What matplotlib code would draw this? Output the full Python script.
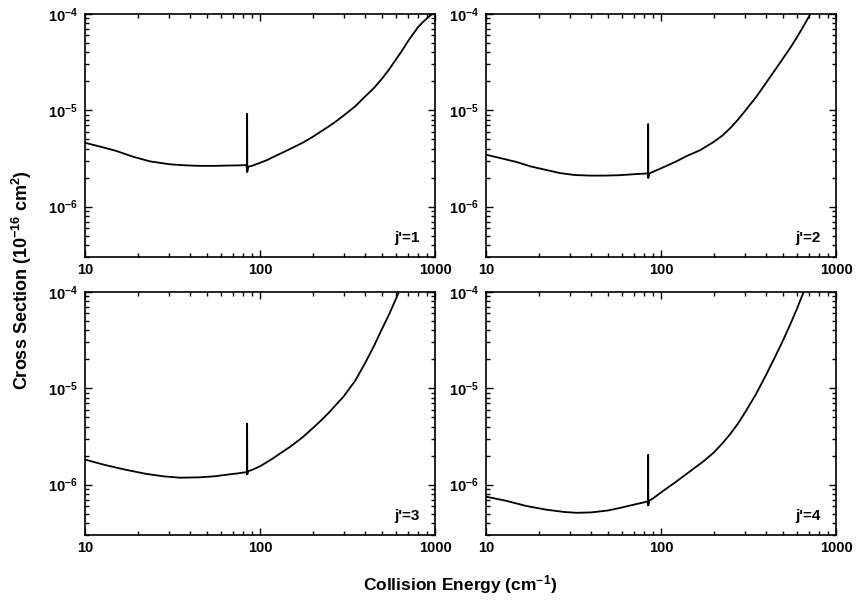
import matplotlib
matplotlib.use("Agg")
import matplotlib.pyplot as plt
from matplotlib.ticker import LogLocator, FixedLocator, NullFormatter

plt.rcParams['font.family'] = ['Liberation Sans', 'DejaVu Sans']
plt.rcParams['font.weight'] = 'bold'
plt.rcParams['mathtext.fontset'] = 'custom'
plt.rcParams['mathtext.rm'] = 'Liberation Sans:bold'
plt.rcParams['mathtext.bf'] = 'Liberation Sans:bold'
plt.rcParams['mathtext.it'] = 'Liberation Sans:bold'

# cross sections (energy in cm-1, sigma in 1e-16 cm2)
energy_j1 = [10, 12.2, 15, 18.8, 23.5, 30.6, 38, 45.4, 55, 65, 75, 83.8, 84.2, 84.4, 84.6,
             85.5, 90, 100, 110, 120, 135, 150, 175, 200, 225, 250, 275, 300, 350, 400,
             450, 500, 550, 600, 650, 700, 750, 800, 850, 900, 950, 1000]
sigma_j1 = [4.6e-6, 4.2e-6, 3.8e-6, 3.3e-6, 2.95e-6, 2.75e-6, 2.68e-6, 2.65e-6, 2.65e-6, 2.67e-6,
            2.68e-6, 2.7e-6, 2.3e-6, 9.2e-6, 2.3e-6,
            2.6e-6, 2.65e-6, 2.85e-6, 3.05e-6, 3.3e-6, 3.65e-6, 4.0e-6, 4.6e-6, 5.3e-6, 6.1e-6,
            6.9e-6, 7.8e-6, 8.8e-6, 1.1e-5, 1.4e-5, 1.72e-5, 2.15e-5, 2.7e-5, 3.4e-5, 4.2e-5,
            5.2e-5, 6.2e-5, 7.3e-5, 8.2e-5, 9.0e-5, 9.8e-5, 1.05e-4]

energy_j2 = [10, 12, 15, 17.8, 21, 26.5, 32, 39, 48, 58, 70, 80, 83.8, 84.2, 84.4, 84.6,
             85.5, 90, 100, 120, 140, 167, 200, 225, 250, 275, 300, 350, 400, 450, 500,
             550, 600, 650, 700, 750]
sigma_j2 = [3.46e-6, 3.2e-6, 2.9e-6, 2.63e-6, 2.45e-6, 2.23e-6, 2.13e-6, 2.1e-6, 2.1e-6, 2.12e-6,
            2.17e-6, 2.2e-6, 2.22e-6, 2.0e-6, 7.2e-6, 2.0e-6,
            2.2e-6, 2.3e-6, 2.5e-6, 2.9e-6, 3.35e-6, 3.85e-6, 4.7e-6, 5.5e-6, 6.6e-6, 8.0e-6,
            9.7e-6, 1.38e-5, 1.95e-5, 2.65e-5, 3.5e-5, 4.5e-5, 5.8e-5, 7.4e-5, 9.4e-5, 1.2e-4]

energy_j3 = [10, 13, 17, 22, 28, 35, 45, 55, 65, 75, 83.8, 84.2, 84.4, 84.6,
             85.5, 90, 100, 110, 120, 135, 150, 175, 200, 225, 250, 275, 300, 350, 400,
             450, 500, 550, 600, 650]
sigma_j3 = [1.82e-6, 1.6e-6, 1.43e-6, 1.3e-6, 1.22e-6, 1.18e-6, 1.19e-6, 1.22e-6, 1.27e-6, 1.31e-6,
            1.35e-6, 1.28e-6, 4.3e-6, 1.28e-6,
            1.38e-6, 1.42e-6, 1.55e-6, 1.72e-6, 1.9e-6, 2.2e-6, 2.5e-6, 3.1e-6, 3.85e-6, 4.7e-6,
            5.7e-6, 6.9e-6, 8.2e-6, 1.2e-5, 1.85e-5, 2.8e-5, 4.2e-5, 6.0e-5, 8.6e-5, 1.2e-4]

energy_j4 = [10, 13, 17, 22, 28, 33, 40, 50, 60, 70, 80, 83.8, 84.2, 84.4, 84.6,
             85.5, 90, 100, 110, 120, 150, 175, 200, 225, 250, 275, 300, 350, 400, 450,
             500, 550, 600, 650, 700]
sigma_j4 = [7.5e-7, 6.8e-7, 6.0e-7, 5.5e-7, 5.2e-7, 5.1e-7, 5.15e-7, 5.4e-7, 5.8e-7, 6.2e-7,
            6.55e-7, 6.7e-7, 6.1e-7, 2.04e-6, 6.1e-7,
            6.8e-7, 7.2e-7, 8.3e-7, 9.4e-7, 1.05e-6, 1.42e-6, 1.75e-6, 2.15e-6, 2.7e-6, 3.4e-6,
            4.3e-6, 5.5e-6, 8.8e-6, 1.4e-5, 2.15e-5, 3.2e-5, 4.7e-5, 6.8e-5, 9.8e-5, 1.4e-4]

panel_labels = ["j'=1", "j'=2", "j'=3", "j'=4"]
x_ticks = [10, 100, 1000]
x_tick_labels = ["10", "100", "1000"]
y_ticks = [1e-6, 1e-5, 1e-4]
y_tick_labels = [r"$10^{-6}$", r"$10^{-5}$", r"$10^{-4}$"]

fig = plt.figure(figsize=(8.56, 6.05), dpi=100)

# axes boxes in figure fraction: left, bottom, width, height
boxes = [(0.0993, 0.5752, 0.4089, 0.4017), (0.5678, 0.5752, 0.4089, 0.4017),
         (0.0993, 0.1157, 0.4089, 0.4017), (0.5678, 0.1157, 0.4089, 0.4017)]
curves = [(energy_j1, sigma_j1), (energy_j2, sigma_j2), (energy_j3, sigma_j3), (energy_j4, sigma_j4)]

for box, (e, s), lab in zip(boxes, curves, panel_labels):
    ax = fig.add_axes(box)
    ax.plot(e, s, color='black', lw=1.3)
    ax.set_xscale('log')
    ax.set_yscale('log')
    ax.set_xlim(10, 1000)
    ax.set_ylim(3e-7, 1e-4)
    ax.xaxis.set_major_locator(FixedLocator(x_ticks))
    ax.set_xticklabels(x_tick_labels)
    ax.xaxis.set_minor_locator(LogLocator(base=10, subs=range(2, 10)))
    ax.xaxis.set_minor_formatter(NullFormatter())
    ax.yaxis.set_major_locator(FixedLocator(y_ticks))
    ax.set_yticklabels(y_tick_labels)
    ax.yaxis.set_minor_locator(LogLocator(base=10, subs=range(2, 10)))
    ax.yaxis.set_minor_formatter(NullFormatter())
    ax.tick_params(which='both', direction='in', top=True, right=True, width=1.0, labelsize=10.5)
    ax.tick_params(which='major', length=5, pad=4)
    ax.tick_params(axis='y', which='major', pad=5)
    ax.tick_params(which='minor', length=3)
    for sp in ax.spines.values():
        sp.set_linewidth(1.2)
    ax.text(0.955, 0.05, lab, transform=ax.transAxes, ha='right', va='bottom',
            fontsize=11, fontweight='bold')

fig.text(0.026, 0.537, r"Cross Section (10$^{-16}$ cm$^{2}$)", rotation=90,
         ha='center', va='center', fontsize=13, fontweight='bold')
fig.text(0.537, 0.033, r"Collision Energy (cm$^{-1}$)", ha='center', va='center',
         fontsize=12.5, fontweight='bold')

fig.savefig('out.png', dpi=100)
